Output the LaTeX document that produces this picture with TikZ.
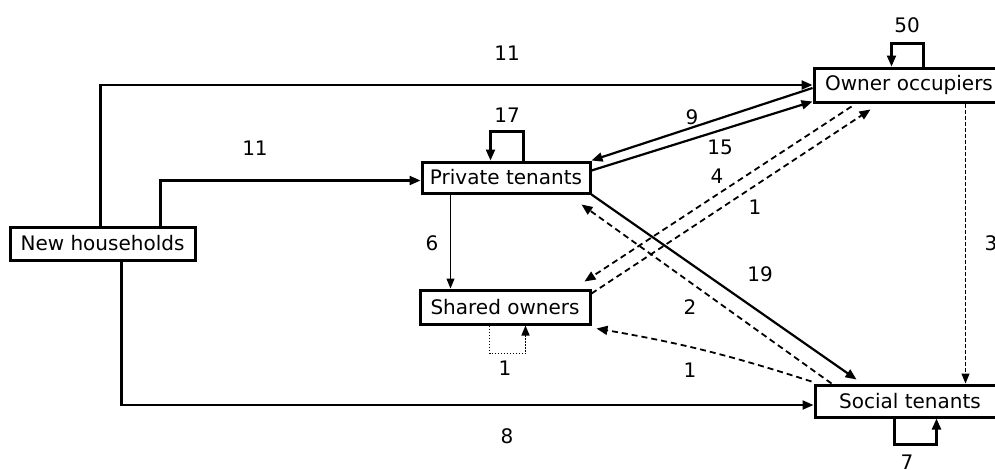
\documentclass[tikz,border=0pt]{standalone}
\usepackage{fontspec}
\setmainfont{DejaVu Sans}
\usetikzlibrary{arrows.meta,calc}
\begin{document}
\begin{tikzpicture}[x=1pt,y=-1pt,
  font=\fontsize{20}{24}\selectfont,
  box/.style={draw,line width=3pt,inner sep=0pt,fill=white},
  arr/.style={-{Triangle[length=11pt,width=9pt]},line width=2.2pt},
  thinarr/.style={-{Triangle[length=10pt,width=8pt]},line width=1pt},
  dsh/.style={-{Triangle[length=11pt,width=9pt]},line width=1.8pt,dash pattern=on 6pt off 4pt},
  dotarr/.style={-{Triangle[length=10pt,width=8pt]},line width=1.5pt,dash pattern=on 1.5pt off 1.5pt},
  vdsh/.style={-{Triangle[length=10pt,width=8pt]},line width=1pt,dash pattern=on 4pt off 2pt},
  lbl/.style={inner sep=0pt}]
\useasboundingbox (0,0) rectangle (995,469);
\clip (0,0) rectangle (995,469);

% households and tenures
\node[box,minimum width=185,minimum height=33] (nh) at (102.5,243.5) {New households};
\node[box,minimum width=168,minimum height=31] (pt) at (506,177.5) {Private tenants};
\node[box,minimum width=170,minimum height=34] (so) at (505,307) {Shared owners};
\node[box,minimum width=190,minimum height=34] (oo) at (909,85) {Owner occupiers};
\node[box,minimum width=190,minimum height=32] (st) at (910,401) {Social tenants};

% flows from new households
\draw[arr] ([xshift=92pt]nh.north west) |- (oo.west);
\draw[arr] ([xshift=152pt]nh.north west) |- ([yshift=-3pt]pt.west);
\draw[arr] ([xshift=113pt]nh.south west) |- ([yshift=-4pt]st.west);

% self loops
\draw[arr] ([xshift=111pt]oo.north west) -- ++(0,-23) -| ([xshift=79pt]oo.north west);
\draw[arr] ([xshift=103pt]pt.north west) -- ++(0,-29) -| ([xshift=70pt]pt.north west);
\draw[dotarr] ([xshift=71pt]so.south west) -- ++(0,28) -| ([xshift=107pt]so.south west);
\draw[arr] ([xshift=81pt]st.south west) -- ++(0,26) -| ([xshift=123pt]st.south west);

% moves between tenures
\draw[thinarr] ([xshift=30pt]pt.south west) -- ([xshift=32pt]so.north west);
\draw[arr] ([yshift=-3pt]oo.west) -- (pt.north east);
\draw[arr] ([yshift=7pt]pt.east) -- ([yshift=2pt]oo.south west);
\draw[arr] (pt.south east) -- ([xshift=43pt,yshift=4pt]st.north west);
\draw[dsh] ([xshift=39pt,yshift=-3pt]oo.south west) -- ([xshift=-7pt,yshift=7pt]so.north east);
\draw[dsh] ([yshift=-5pt]so.north east) -- ([xshift=58pt,yshift=-6pt]oo.south west);
\draw[dsh] ([xshift=18pt]st.north west) -- ([xshift=-10pt,yshift=-10pt]pt.south east);
\draw[dsh] ([xshift=-2pt,yshift=2pt]st.north west) to[bend right=4] ([xshift=5pt,yshift=-3pt]so.south east);
\draw[vdsh] ([xshift=153pt]oo.south west) -- ([xshift=152pt]st.north west);

% flow sizes
\node[lbl] (n11a) at (507,53) {11};
\node[lbl] (n11b) at (255,148) {11};
\node[lbl] (n8) at (507,436) {8};
\node[lbl] (n50) at (907,25) {50};
\node[lbl] (n17) at (507,115) {17};
\node[lbl] (n6) at (432,243) {6};
\node[lbl] (n9) at (692,117) {9};
\node[lbl] (n15) at (720,147) {15};
\node[lbl] (n4) at (717,176) {4};
\node[lbl] (n1a) at (755,207) {1};
\node[lbl] (n19) at (760,274) {19};
\node[lbl] (n2) at (690,307) {2};
\node[lbl] (n1b) at (690,370) {1};
\node[lbl] (n1c) at (505,368) {1};
\node[lbl] (n7) at (907,462) {7};
\node[lbl] (n3) at (991,243) {3};
\end{tikzpicture}
\end{document}
